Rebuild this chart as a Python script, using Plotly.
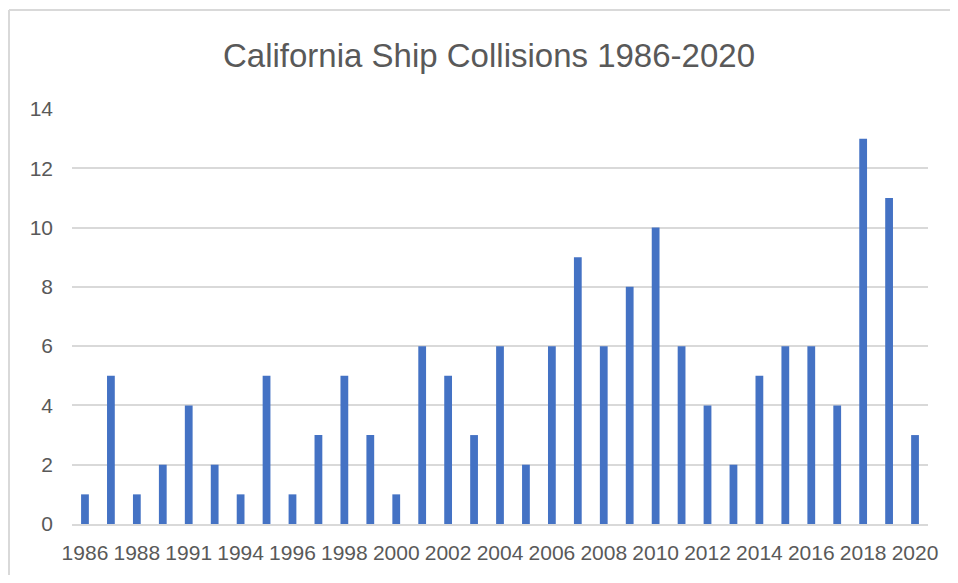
import plotly.graph_objects as go

years = [1986, 1987, 1988, 1990, 1991, 1992, 1994, 1995, 1996, 1997, 1998, 1999, 2000,
         2001, 2002, 2003, 2004, 2005, 2006, 2007, 2008, 2009, 2010, 2011, 2012, 2013,
         2014, 2015, 2016, 2017, 2018, 2019, 2020]
collisions = [1, 5, 1, 2, 4, 2, 1, 5, 1, 3, 5, 3, 1, 6, 5, 3, 6, 2, 6, 9, 6, 8, 10, 6,
              4, 2, 5, 6, 6, 4, 13, 11, 3]
y_ticks = [0, 2, 4, 6, 8, 10, 12, 14]

cats = [str(y) for y in years]
shown = cats[::2]

# page body has an 8px margin, so the figure is sized/offset to compensate
W, H = 950, 567
L, R, T, B = 64, 30, 101, 51

fig = go.Figure(go.Bar(x=cats, y=collisions, marker=dict(color="#4472C4", line=dict(width=0)),
                       width=0.3))

font = "Liberation Sans, Arial, sans-serif"
fig.update_layout(
    width=W, height=H,
    margin=dict(l=L, r=R, t=T, b=B, autoexpand=False),
    paper_bgcolor="white", plot_bgcolor="white",
    showlegend=False,
    title=dict(text="California Ship Collisions 1986-2020", x=481 / W, xref="container",
               xanchor="center", y=1 - 47 / H, yanchor="middle",
               font=dict(family=font, size=33, color="#595959")),
    font=dict(family=font, color="#595959"),
)
fig.update_xaxes(type="category", tickmode="array", tickvals=shown, ticktext=shown,
                 tickfont=dict(size=21, color="#595959"), showgrid=False,
                 showline=True, linecolor="#D9D9D9", linewidth=2, ticks="",
                 ticklabelstandoff=9, tickangle=0, automargin=False)
fig.update_yaxes(range=[0, 14], tickvals=y_ticks, showgrid=True, gridcolor="#D9D9D9",
                 gridwidth=2, zeroline=False, showline=False, ticks="",
                 tickfont=dict(size=21, color="#595959"), ticklabelstandoff=18,
                 automargin=False)

# chart frame (left and top edges of the Excel chart area)
pw = W - L - R
ph = H - T - B
x0 = (1 - L) / pw
y1 = (H - 2 - B) / ph
fig.add_shape(type="line", xref="paper", yref="paper", x0=x0, x1=(W - L) / pw,
              y0=y1, y1=y1, line=dict(color="#D9D9D9", width=2))
fig.add_shape(type="line", xref="paper", yref="paper", x0=x0, x1=x0,
              y0=(-B) / ph, y1=y1, line=dict(color="#D9D9D9", width=2))

fig.write_html("out.html")
